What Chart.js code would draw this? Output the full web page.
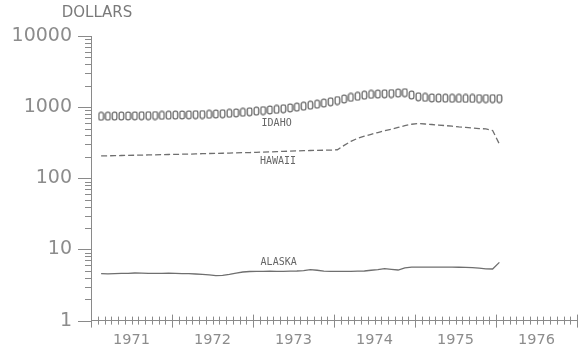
<!DOCTYPE html>
<html>
<head>
<meta charset="utf-8">
<script src="https://cdn.jsdelivr.net/npm/chart.js@4"></script>
<style>
  html, body { margin: 0; padding: 0; background: #fff; }
  canvas { display: block; }
</style>
</head>
<body>
<canvas id="chart" width="588" height="351"></canvas>
<script>
// 数据：月度值，从 1971 年 2 月开始
const firstMonth = 1.5; // 相对 1971 年 1 月的月份偏移
const yearLabels = ['1971', '1972', '1973', '1974', '1975', '1976'];
const decadeTicks = [1, 10, 100, 1000, 10000];

const idaho = [
    743, 745, 748, 750, 752, 755, 758, 760, 763, 766,
    770, 773, 777, 780, 784, 788, 793, 800, 808, 818,
    830, 845, 860, 878, 895, 912, 930, 950, 975, 1000,
    1030, 1065, 1100, 1140, 1190, 1240, 1300, 1370, 1420, 1470,
    1510, 1525, 1540, 1555, 1575, 1600, 1480, 1400, 1370, 1350,
    1340, 1335, 1330, 1330, 1325, 1325, 1320, 1320, 1320, 1320
];
const hawaii = [
    206, 207, 208, 209, 210, 211, 212, 213, 214, 215,
    216, 217, 218, 219, 220, 222, 223, 224, 225, 226,
    228, 229, 230, 232, 233, 235, 237, 239, 241, 243,
    245, 246, 247, 248, 249, 252, 290, 330, 365, 390,
    415, 440, 465, 489, 520, 550, 575, 588, 580, 570,
    560, 550, 540, 527, 520, 510, 500, 495, 470, 303
];
const alaska = [
    4.56, 4.55, 4.58, 4.60, 4.62, 4.67, 4.65, 4.62, 4.60, 4.62,
    4.64, 4.60, 4.58, 4.56, 4.52, 4.45, 4.38, 4.28, 4.32, 4.45,
    4.65, 4.82, 4.90, 4.93, 4.93, 4.95, 4.93, 4.93, 4.95, 4.98,
    5.05, 5.19, 5.10, 4.95, 4.93, 4.93, 4.93, 4.93, 4.95, 4.98,
    5.10, 5.20, 5.36, 5.25, 5.14, 5.50, 5.66, 5.66, 5.66, 5.66,
    5.66, 5.66, 5.64, 5.62, 5.60, 5.55, 5.45, 5.35, 5.31, 6.58
];

// 曲线标注（数据坐标）
const seriesNames = ['IDAHO', 'HAWAII', 'ALASKA'];
const labelMonths = [27.5, 27.7, 27.8];
const labelValues = [593, 170, 6.64];

const inkColor = '#6f6f6f';
const axisColor = '#8a8a8a';

function toPoints(values) {
    return values.map((v, i) => ({ x: firstMonth + i, y: v }));
}

// 绘图仪风格的 "0" 形标记
function makeMarker() {
    const c = document.createElement('canvas');
    c.width = 7;
    c.height = 10;
    const g = c.getContext('2d');
    g.strokeStyle = '#666';
    g.lineWidth = 1.3;
    g.beginPath();
    g.roundRect(1.2, 1.2, 4.6, 7.6, 1.8);
    g.stroke();
    return c;
}

// 坐标刻度与文字
const decorations = {
    id: 'decorations',
    afterDraw(chart) {
        const ctx = chart.ctx;
        const x = chart.scales.x;
        const y = chart.scales.y;
        const area = chart.chartArea;
        ctx.save();
        ctx.strokeStyle = axisColor;
        ctx.lineWidth = 1;

        // x 轴刻度：年为长刻度，月为短刻度
        for (let m = 0; m <= 72; m++) {
            const px = Math.round(x.getPixelForValue(m)) + 0.5;
            const major = m % 12 === 0;
            ctx.beginPath();
            ctx.moveTo(px, area.bottom - (major ? 6 : 4));
            ctx.lineTo(px, area.bottom + (major ? 7 : 4));
            ctx.stroke();
        }

        // y 轴刻度
        decadeTicks.forEach((d, i) => {
            const py = Math.round(y.getPixelForValue(d)) + 0.5;
            ctx.beginPath();
            ctx.moveTo(area.left - 13, py);
            ctx.lineTo(area.left, py);
            ctx.stroke();
            if (i < decadeTicks.length - 1) {
                for (let k = 2; k <= 9; k++) {
                    const pm = Math.round(y.getPixelForValue(k * d)) + 0.5;
                    ctx.beginPath();
                    ctx.moveTo(area.left - 6, pm);
                    ctx.lineTo(area.left, pm);
                    ctx.stroke();
                }
            }
        });

        // 单位
        ctx.fillStyle = '#7a7a7a';
        ctx.font = '15px "DejaVu Sans"';
        ctx.textAlign = 'center';
        ctx.textBaseline = 'middle';
        ctx.fillText('DOLLARS', 97, 13);

        // 曲线名称
        ctx.font = '10px "DejaVu Sans Mono"';
        ctx.fillStyle = '#666';
        seriesNames.forEach((name, i) => {
            ctx.fillText(name, x.getPixelForValue(labelMonths[i]), y.getPixelForValue(labelValues[i]));
        });
        ctx.restore();
    }
};

const ctx = document.getElementById('chart').getContext('2d');
const chart = new Chart(ctx, {
    type: 'line',
    data: {
        datasets: [
            {
                label: 'IDAHO',
                data: toPoints(idaho),
                showLine: false,
                pointStyle: makeMarker(),
                pointRadius: 4,
                borderColor: inkColor
            },
            {
                label: 'HAWAII',
                data: toPoints(hawaii),
                borderColor: inkColor,
                borderWidth: 1.3,
                borderDash: [6, 3],
                pointRadius: 0,
                tension: 0
            },
            {
                label: 'ALASKA',
                data: toPoints(alaska),
                borderColor: inkColor,
                borderWidth: 1.3,
                pointRadius: 0,
                tension: 0
            }
        ]
    },
    options: {
        responsive: false,
        animation: false,
        devicePixelRatio: 1,
        layout: { padding: { top: 36, right: 3, left: 0, bottom: 0 } },
        plugins: {
            legend: { display: false },
            tooltip: { enabled: false }
        },
        scales: {
            x: {
                type: 'linear',
                min: 0,
                max: 72,
                afterFit: s => { s.height = 28; },
                grid: { display: false, drawTicks: false },
                border: { display: true, color: axisColor, width: 1 },
                ticks: {
                    stepSize: 1,
                    autoSkip: false,
                    maxRotation: 0,
                    padding: 11,
                    color: '#8c8c8c',
                    font: { family: 'DejaVu Sans', size: 14.5 },
                    callback: v => (v % 12 === 6 ? yearLabels[(v - 6) / 12] : '')
                }
            },
            y: {
                type: 'logarithmic',
                min: 1,
                max: 10000,
                afterFit: s => { s.width = 91; },
                afterBuildTicks: s => { s.ticks = decadeTicks.map(v => ({ value: v })); },
                grid: { display: false, drawTicks: false },
                border: { display: true, color: axisColor, width: 1 },
                ticks: {
                    padding: 19,
                    color: '#8c8c8c',
                    font: { family: 'DejaVu Sans', size: 19 },
                    callback: v => String(v)
                }
            }
        }
    },
    plugins: [decorations]
});
</script>
</body>
</html>
